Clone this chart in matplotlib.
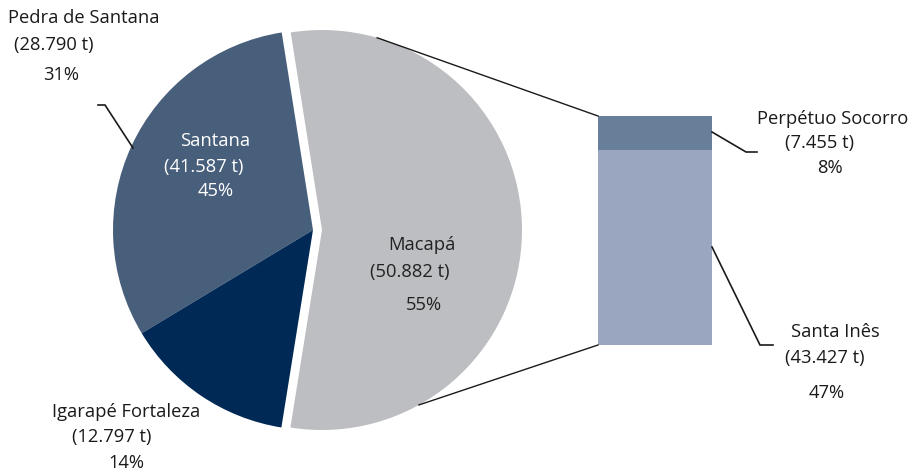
import numpy as np
import matplotlib.pyplot as plt

# producao por municipio (t)
pie_names = ['Pedra de Santana', 'Igarapé Fortaleza', 'Macapá']
pie_tons = [28790, 12797, 50882]
pie_pct = [31, 14, 55]
santana_tons = 41587
santana_pct = 45

# detalhe de Macapá
bar_names = ['Santa Inês', 'Perpétuo Socorro']
bar_tons = [43427, 7455]
bar_pct = [47, 8]

pie_colors = ['#485f7b', '#002955', '#bdbec2']
bar_colors = ['#9aa5bf', '#687f99']

plt.rcParams['font.family'] = ['Open Sans', 'DejaVu Sans']

W, H = 910, 471
fig = plt.figure(figsize=(W / 100, H / 100), dpi=100)
ax = fig.add_axes([0, 0, 1, 1])

# pixel -> dados (centro da pizza em 313,230, raio 200 px)
cx, cy, R = 313, 230, 200


def px(x, y):
    return (x - cx) / R, (cy - y) / R


start = 99
wedges, _ = ax.pie(pie_tons, colors=pie_colors, startangle=start,
                   counterclock=True, explode=[0, 0, 0.045], radius=1,
                   center=(0, 0), wedgeprops=dict(linewidth=0))

# barra empilhada com a composicao de Macapá
x0, x1 = px(598, 0)[0], px(712, 0)[0]
ytop, ybot = px(0, 116)[1], px(0, 345)[1]
scale = (ytop - ybot) / sum(bar_tons)
bottom = ybot
for v, c in zip(bar_tons, bar_colors):
    ax.bar(x0, v * scale, width=x1 - x0, bottom=bottom, align='edge',
           color=c, linewidth=0)
    bottom += v * scale

# linhas ligando Macapá a barra
mac = wedges[2]
mcx, mcy = mac.center
for ang, yb in [(74, ytop), (-61, ybot)]:
    a = np.radians(ang)
    ax.plot([mcx + np.cos(a), x0], [mcy + np.sin(a), yb], color='#1a1a1a', lw=1)


def fmt(v):
    return f'{v:,}'.replace(',', '.')


def lab(x, y, s, color='#1a1a1a'):
    ax.text(*px(x, y), s, ha='left', va='center', fontsize=13.2, color=color)


def leader(pts):
    xs, ys = zip(*[px(x, y) for x, y in pts])
    ax.plot(xs, ys, color='#1a1a1a', lw=1.2, solid_joinstyle='miter')


lab(8, 18, pie_names[0])
lab(14, 45, f'({fmt(pie_tons[0])} t)')
lab(43, 75, f'{pie_pct[0]}%')
leader([(98, 105), (105, 105), (133, 148)])

lab(180, 141, 'Santana', 'white')
lab(164, 167, f'({fmt(santana_tons)} t)', 'white')
lab(198, 191, f'{santana_pct}%', 'white')

lab(388, 245, pie_names[2], '#222222')
lab(370, 272, f'({fmt(pie_tons[2])} t)', '#222222')
lab(406, 305, f'{pie_pct[2]}%', '#222222')

lab(52, 412, pie_names[1])
lab(72, 437, f'({fmt(pie_tons[1])} t)')
lab(108, 463, f'{pie_pct[1]}%')

lab(757, 119, bar_names[1])
lab(785, 143, f'({fmt(bar_tons[1])} t)')
lab(817, 168, f'{bar_pct[1]}%')
leader([(712, 132), (746, 152), (757, 152)])

lab(791, 332, bar_names[0])
lab(785, 358, f'({fmt(bar_tons[0])} t)')
lab(809, 393, f'{bar_pct[0]}%')
leader([(712, 247), (760, 345), (773, 345)])

ax.set_xlim(px(0, 0)[0], px(W, 0)[0])
ax.set_ylim(px(0, H)[1], px(0, 0)[1])
ax.set_aspect('auto')
ax.axis('off')

fig.savefig('out.png', dpi=100, facecolor='white')
